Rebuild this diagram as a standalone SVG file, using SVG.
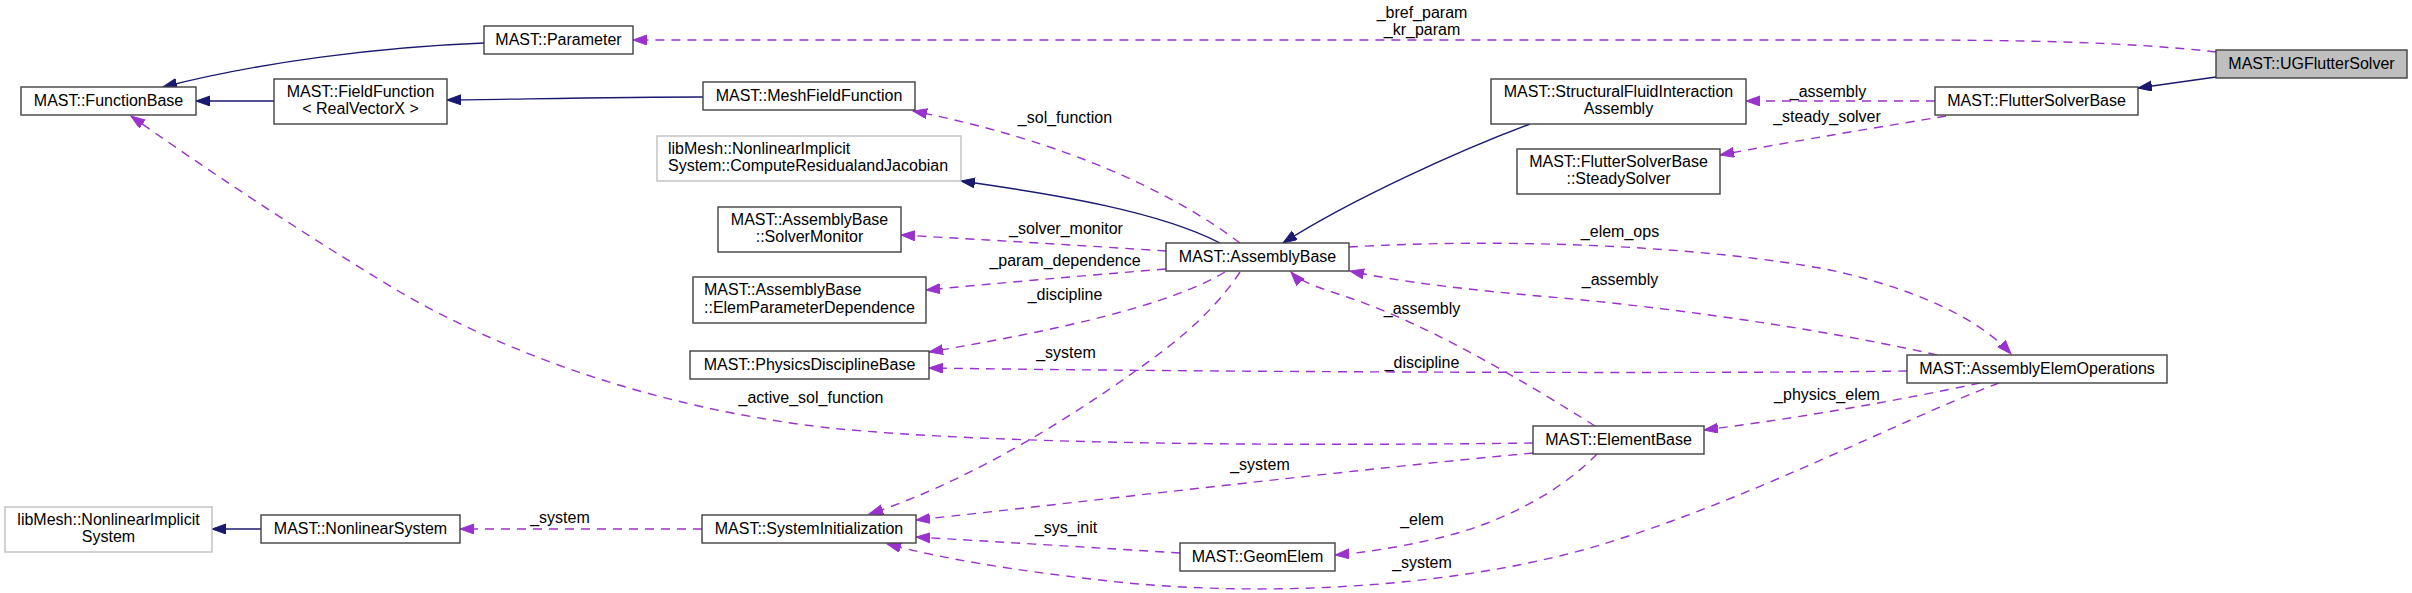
<svg xmlns="http://www.w3.org/2000/svg" width="2412" height="593" viewBox="0 0 2412 593">
<style>
text{font-family:"Liberation Sans",Arial,Helvetica,sans-serif;font-size:16px;fill:#000}
.c{text-anchor:middle}
.box{fill:#fff;stroke:#404040;stroke-width:1.4}
.gbox{fill:#fff;stroke:#bfbfbf;stroke-width:1.4}
.cur{fill:#bfbfbf;stroke:#404040;stroke-width:1.4}
.inh{fill:none;stroke:#191970;stroke-width:1.4;marker-end:url(#an)}
.use{fill:none;stroke:#9a32cd;stroke-width:1.4;stroke-dasharray:9,7;marker-end:url(#ap)}
</style>
<defs>
<marker id="an" markerUnits="userSpaceOnUse" markerWidth="15" markerHeight="11" refX="14" refY="5" orient="auto"><path d="M0,0 L14,5 L0,10 z" fill="#191970" stroke="#191970" stroke-width="1"/></marker>
<marker id="ap" markerUnits="userSpaceOnUse" markerWidth="15" markerHeight="11" refX="14" refY="5" orient="auto"><path d="M0,0 L14,5 L0,10 z" fill="#9a32cd" stroke="#9a32cd" stroke-width="1"/></marker>
</defs>
<rect width="2412" height="593" fill="#fff"/>
<g id="connectors">
<path class="inh" d="M484,43 C380,47 260,62 163,87"/>
<path class="inh" d="M274,101 L196,101"/>
<path class="inh" d="M703,97 C620,97 530,99 447,100"/>
<path class="inh" d="M1220,243 C1160,212 1060,195 961,181"/>
<path class="inh" d="M1530,124 C1460,150 1350,200 1283,243"/>
<path class="inh" d="M2216,77 L2138,88"/>
<path class="inh" d="M261,529 L212,529"/>
<path class="use" d="M2216,52 C2130,42 2020,40 1900,40 L633,40"/>
<path class="use" d="M1935,101 L1746,101"/>
<path class="use" d="M1946,116 C1880,127 1800,140 1720,155"/>
<path class="use" d="M1240,243 C1170,190 1060,140 913,111"/>
<path class="use" d="M1166,251 C1090,246 990,240 901,235"/>
<path class="use" d="M1166,269 C1080,276 1000,283 926,290"/>
<path class="use" d="M1225,272 C1170,305 1060,330 929,352"/>
<path class="use" d="M1240,272 C1215,310 1180,340 1134,372 C1060,425 960,485 869,514"/>
<path class="use" d="M1349,247 C1500,238 1700,245 1830,270 C1930,292 1985,325 2011,354"/>
<path class="use" d="M1937,355 C1850,335 1700,310 1550,297 C1470,290 1400,282 1350,271"/>
<path class="use" d="M1907,371 C1700,374 1200,372 929,368"/>
<path class="use" d="M1980,383 C1900,400 1800,418 1704,430"/>
<path class="use" d="M1999,383 C1900,420 1750,500 1600,545 C1450,590 1250,598 1100,580 C1010,570 940,558 887,544"/>
<path class="use" d="M1595,426 C1530,385 1430,325 1350,298 C1320,288 1300,282 1291,272"/>
<path class="use" d="M1533,443 C1300,446 1000,445 830,428 C650,408 500,350 400,292 C300,232 200,165 131,116"/>
<path class="use" d="M1533,453 C1350,470 1100,500 916,520"/>
<path class="use" d="M1597,454 C1560,492 1500,525 1430,540 C1395,548 1360,553 1335,555"/>
<path class="use" d="M1180,553 C1100,548 1000,542 916,537"/>
<path class="use" d="M702,529 L460,529"/>
<text class="c" x="1422" y="18">_bref_param</text>
<text class="c" x="1422" y="35">_kr_param</text>
<text class="c" x="1828" y="97">_assembly</text>
<text class="c" x="1827" y="122">_steady_solver</text>
<text class="c" x="1065" y="123">_sol_function</text>
<text class="c" x="1066" y="234">_solver_monitor</text>
<text class="c" x="1065" y="266">_param_dependence</text>
<text class="c" x="1620" y="237">_elem_ops</text>
<text class="c" x="1620" y="285">_assembly</text>
<text class="c" x="1065" y="300">_discipline</text>
<text class="c" x="1066" y="358">_system</text>
<text class="c" x="811" y="403">_active_sol_function</text>
<text class="c" x="1422" y="314">_assembly</text>
<text class="c" x="1422" y="368">_discipline</text>
<text class="c" x="1827" y="400">_physics_elem</text>
<text class="c" x="1260" y="470">_system</text>
<text class="c" x="1422" y="525">_elem</text>
<text class="c" x="1066" y="533">_sys_init</text>
<text class="c" x="1422" y="568">_system</text>
<text class="c" x="560" y="523">_system</text>
</g>
<g id="UGFlutterSolver"><rect class="cur" x="2216" y="50" width="191" height="28"/><text class="c" x="2311.5" y="69">MAST::UGFlutterSolver</text></g>
<g id="FlutterSolverBase"><rect class="box" x="1935" y="87" width="203" height="28"/><text class="c" x="2036.5" y="106">MAST::FlutterSolverBase</text></g>
<g id="Parameter"><rect class="box" x="484" y="26" width="149" height="28"/><text class="c" x="558.5" y="45">MAST::Parameter</text></g>
<g id="FunctionBase"><rect class="box" x="21" y="87" width="175" height="28"/><text class="c" x="108.5" y="106">MAST::FunctionBase</text></g>
<g id="FieldFunction"><rect class="box" x="274" y="79" width="173" height="45"/><text class="c" x="360.5" y="97">MAST::FieldFunction</text><text class="c" x="360.5" y="114">&lt; RealVectorX &gt;</text></g>
<g id="MeshFieldFunction"><rect class="box" x="703" y="82" width="212" height="28"/><text class="c" x="809" y="101">MAST::MeshFieldFunction</text></g>
<g id="ComputeResidualandJacobian"><rect class="gbox" x="657" y="136" width="304" height="45"/><text x="668" y="154">libMesh::NonlinearImplicit</text><text x="668" y="171">System::ComputeResidualandJacobian</text></g>
<g id="SolverMonitor"><rect class="box" x="718" y="207" width="183" height="45"/><text class="c" x="809.5" y="225">MAST::AssemblyBase</text><text class="c" x="809.5" y="242">::SolverMonitor</text></g>
<g id="ElemParameterDependence"><rect class="box" x="693" y="277" width="233" height="46"/><text x="704" y="295">MAST::AssemblyBase</text><text x="704" y="313">::ElemParameterDependence</text></g>
<g id="AssemblyBase"><rect class="box" x="1166" y="243" width="183" height="28"/><text class="c" x="1257.5" y="262">MAST::AssemblyBase</text></g>
<g id="StructuralFluidInteractionAssembly"><rect class="box" x="1491" y="79" width="255" height="45"/><text class="c" x="1618.5" y="97">MAST::StructuralFluidInteraction</text><text class="c" x="1618.5" y="114">Assembly</text></g>
<g id="SteadySolver"><rect class="box" x="1517" y="149" width="203" height="45"/><text class="c" x="1618.5" y="167">MAST::FlutterSolverBase</text><text class="c" x="1618.5" y="184">::SteadySolver</text></g>
<g id="PhysicsDisciplineBase"><rect class="box" x="690" y="351" width="239" height="28"/><text class="c" x="809.5" y="370">MAST::PhysicsDisciplineBase</text></g>
<g id="AssemblyElemOperations"><rect class="box" x="1907" y="355" width="260" height="28"/><text class="c" x="2037" y="374">MAST::AssemblyElemOperations</text></g>
<g id="ElementBase"><rect class="box" x="1533" y="426" width="171" height="28"/><text class="c" x="1618.5" y="445">MAST::ElementBase</text></g>
<g id="SystemInitialization"><rect class="box" x="702" y="515" width="214" height="28"/><text class="c" x="809" y="534">MAST::SystemInitialization</text></g>
<g id="GeomElem"><rect class="box" x="1180" y="543" width="155" height="28"/><text class="c" x="1257.5" y="562">MAST::GeomElem</text></g>
<g id="NonlinearSystem"><rect class="box" x="261" y="515" width="199" height="28"/><text class="c" x="360.5" y="534">MAST::NonlinearSystem</text></g>
<g id="NonlinearImplicitSystem"><rect class="gbox" x="5" y="507" width="207" height="45"/><text class="c" x="108.5" y="525">libMesh::NonlinearImplicit</text><text class="c" x="108.5" y="542">System</text></g>
</svg>
